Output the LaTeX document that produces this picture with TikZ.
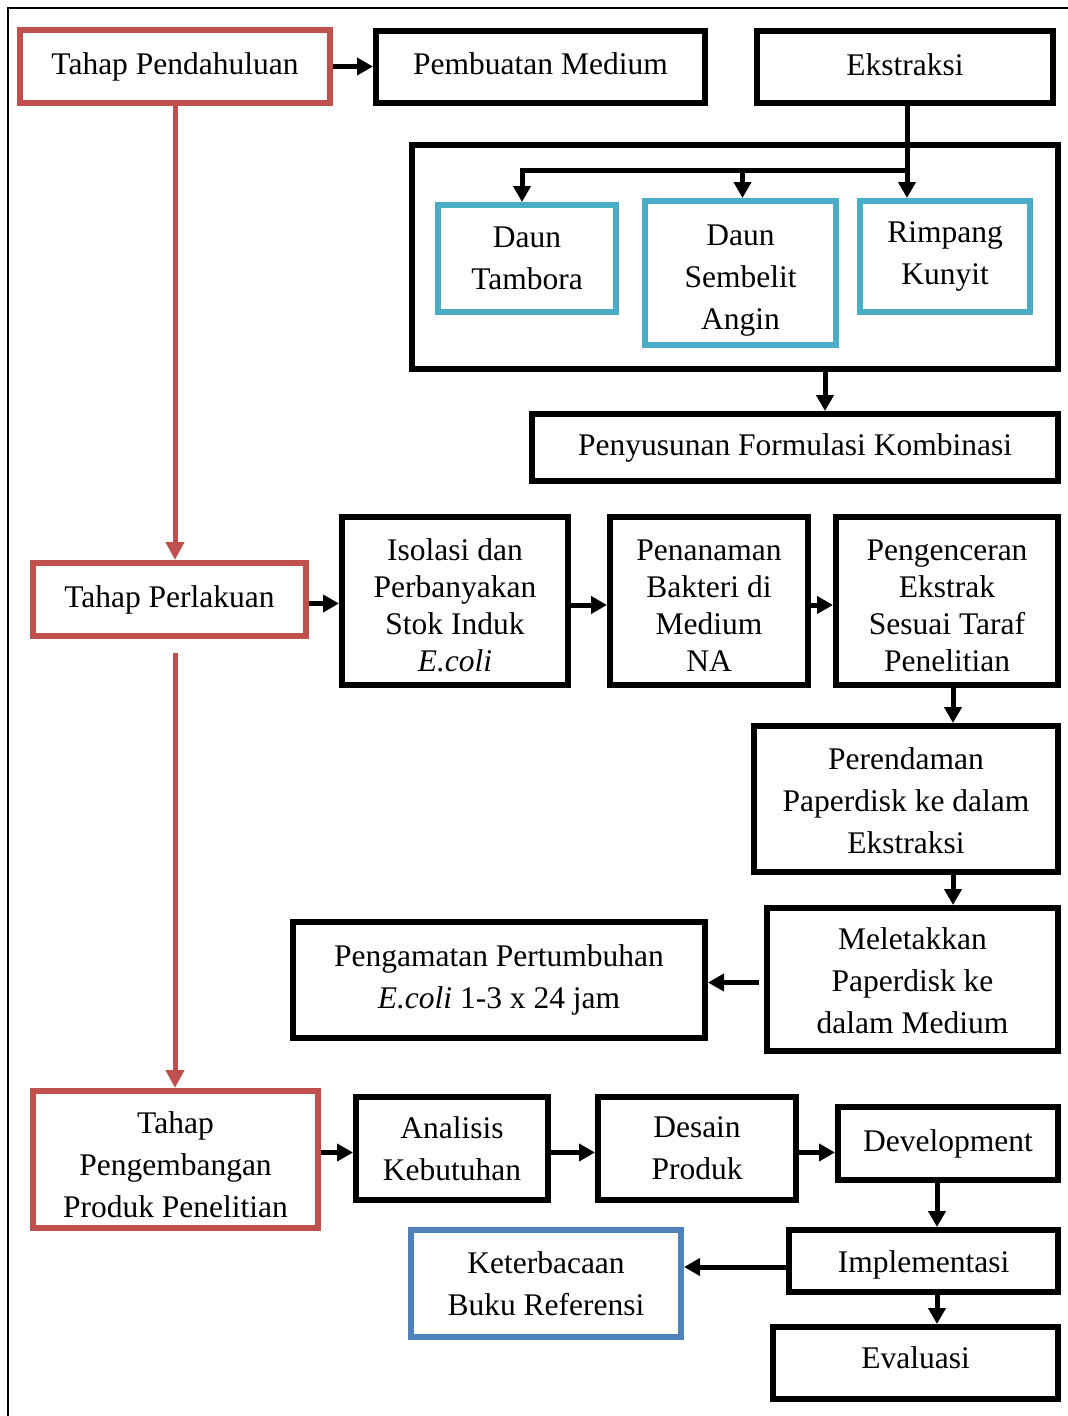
\documentclass[tikz,border=0pt]{standalone}
\usepackage{fontspec}
\setmainfont{Liberation Serif}
\usetikzlibrary{arrows.meta}
\definecolor{redb}{HTML}{C0504D}
\definecolor{cyanb}{HTML}{4BACC6}
\definecolor{blueb}{HTML}{4F81BD}
\newcommand\tpush[1]{\rule{0pt}{#1}}
\newcommand\tlift[1]{\rule[-#1]{0pt}{0pt}}
\begin{document}
\begin{tikzpicture}[x=1pt,y=-1pt,
  box/.style={draw=black, line width=6pt, fill=white, align=center, inner sep=0pt,
    font=\fontsize{31.5}{42}\selectfont},
  tight/.style={font=\fontsize{31.5}{37}\selectfont},
  redbox/.style={box, draw=redb},
  cyanbox/.style={box, draw=cyanb},
  bluebox/.style={box, draw=blueb},
  arr/.style={line width=5pt, draw=black, -{Triangle[length=16pt,width=17pt]}},
  redarr/.style={line width=5pt, draw=redb, -{Triangle[length=18pt,width=18pt]}}
]
\useasboundingbox (0,0) rectangle (1068,1416);
\fill[white] (0,0) rectangle (1068,1416);
\draw[line width=2pt] (8,1416) -- (8,8) -- (1068,8);

% top row
\node[redbox, minimum width=310pt, minimum height=73pt] (pend) at (175,66.5) {Tahap Pendahuluan};
\node[box, minimum width=329pt, minimum height=72pt] (pemb) at (540.5,67) {Pembuatan Medium\tlift{6pt}};
\node[box, minimum width=296pt, minimum height=72pt] (eks) at (905,67) {Ekstraksi\tlift{5pt}};

% big container
\node[box, minimum width=646pt, minimum height=224pt] (big) at (735,257) {};
\node[cyanbox, minimum width=178pt, minimum height=107pt] (tamb) at (527,258.5) {Daun\\Tambora};
\node[cyanbox, minimum width=191pt, minimum height=144pt] (semb) at (740.5,273) {\tpush{36pt}Daun\\Sembelit\\Angin};
\node[cyanbox, minimum width=170pt, minimum height=111pt] (rimp) at (945,256.5) {Rimpang\\Kunyit};

\node[box, minimum width=526pt, minimum height=67pt] (peny) at (795,447.5) {Penyusunan Formulasi Kombinasi};

% second stage
\node[redbox, minimum width=273pt, minimum height=73pt] (perl) at (169.5,599.5) {Tahap Perlakuan};
\node[box, tight, minimum width=226pt, minimum height=168pt] (isol) at (455,601) {\tpush{30pt}Isolasi dan\\Perbanyakan\\Stok Induk\\\textit{E.coli}};
\node[box, tight, minimum width=198pt, minimum height=168pt] (pena) at (709,601) {\tpush{30pt}Penanaman\\Bakteri di\\Medium\\NA};
\node[box, tight, minimum width=222pt, minimum height=168pt] (peng) at (947,601) {\tpush{30pt}Pengenceran\\Ekstrak\\Sesuai Taraf\\Penelitian};
\node[box, minimum width=304pt, minimum height=146pt] (pere) at (906,799) {\tpush{25pt}Perendaman\\Paperdisk ke dalam\\Ekstraksi};
\node[box, minimum width=291pt, minimum height=143pt] (mele) at (912.5,979.5) {\tpush{25pt}Meletakkan\\Paperdisk ke\\dalam Medium};
\node[box, minimum width=412pt, minimum height=116pt] (pngm) at (499,980) {Pengamatan Pertumbuhan\\\textit{E.coli} 1-3 x 24 jam};

% third stage
\node[redbox, minimum width=285pt, minimum height=137pt] (tpp) at (175.5,1159.5) {\tpush{32pt}Tahap\\Pengembangan\\Produk Penelitian};
\node[box, minimum width=192pt, minimum height=103pt] (anal) at (452,1148.5) {Analisis\\Kebutuhan};
\node[box, minimum width=198pt, minimum height=103pt] (desa) at (697,1148.5) {Desain\\Produk};
\node[box, minimum width=220pt, minimum height=73pt] (devl) at (948,1143.5) {Development};
\node[box, minimum width=269pt, minimum height=62pt] (impl) at (923.5,1261) {\tpush{30pt}Implementasi};
\node[bluebox, minimum width=270pt, minimum height=107pt] (kete) at (546,1283.5) {Keterbacaan\\Buku Referensi};
\node[box, minimum width=285pt, minimum height=72pt] (eval) at (915.5,1363) {Evaluasi\tlift{10pt}};

% connectors top
\draw[arr] (pend.east) -- (pend.east -| pemb.west);
\draw[arr] ([xshift=2pt]eks.south) -- ([xshift=2pt]eks.south |- rimp.north);
\coordinate (j) at ([xshift=2pt,yshift=-64pt]eks.south);
\draw[arr] (j) -| ([xshift=-5pt]tamb.north);
\draw[arr] ([xshift=2pt]semb.north |- j) -- ([xshift=2pt]semb.north);
\draw[arr] ([xshift=90pt]big.south) -- ([xshift=90pt]big.south |- peny.north);

% red spine
\draw[redarr] (pend.south) -- (pend.south |- perl.north);
\coordinate (r2) at ([yshift=-14pt]perl.south -| pend.south);
\draw[redarr] (r2) -- (r2 |- tpp.north);

% second stage connectors
\draw[arr] ([yshift=-4pt]perl.east) -- ([yshift=-4pt]perl.east -| isol.west);
\draw[arr] ([yshift=-4pt]isol.east) -- ([yshift=-4pt]isol.east -| pena.west);
\draw[arr] ([yshift=-4pt]pena.east) -- ([yshift=-4pt]pena.east -| peng.west);
\draw[arr] ([xshift=6pt]peng.south) -- ([xshift=6pt]peng.south |- pere.north);
\draw[arr] ([xshift=6pt]peng.south |- pere.south) -- ([xshift=6pt]peng.south |- mele.north);
\draw[arr] ([yshift=-3pt,xshift=-5pt]mele.west) -- ([yshift=-3pt]mele.west -| pngm.east);

% third stage connectors
\draw[arr] ([yshift=-4pt]anal.west -| tpp.east) -- ([yshift=-4pt]anal.west);
\draw[arr] ([yshift=-4pt]anal.east) -- ([yshift=-4pt]anal.east -| desa.west);
\draw[arr] ([yshift=-4pt]desa.east) -- ([yshift=-4pt]desa.east -| devl.west);
\draw[arr] ([xshift=13.5pt]impl.north |- devl.south) -- ([xshift=13.5pt]impl.north);
\draw[arr] ([yshift=-6pt]impl.west) -- ([yshift=-6pt]impl.west -| kete.east);
\draw[arr] ([xshift=13.5pt]impl.south) -- ([xshift=13.5pt]impl.south |- eval.north);
\end{tikzpicture}
\end{document}
